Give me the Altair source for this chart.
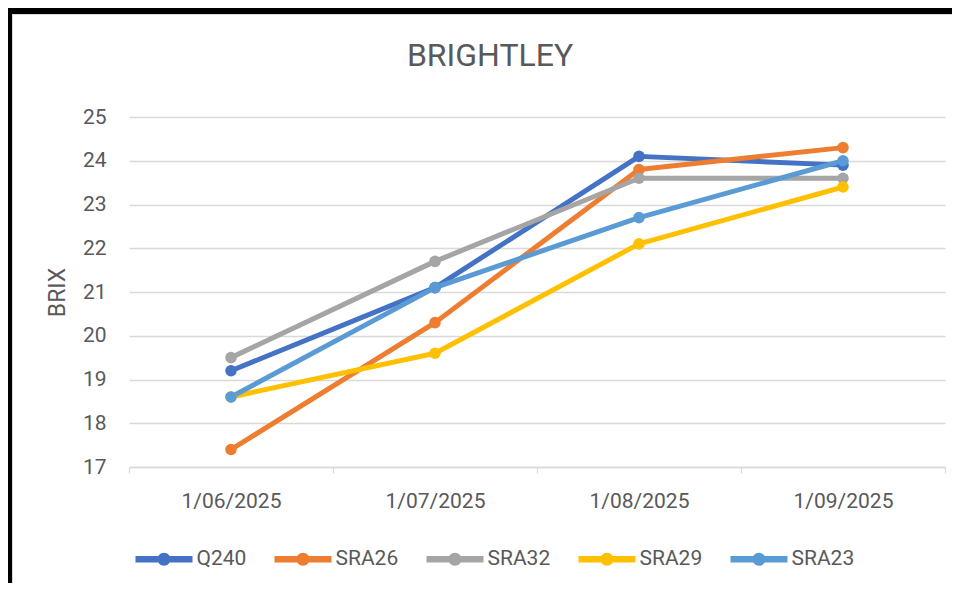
import altair as alt
import pandas as pd

dates = ["1/06/2025", "1/07/2025", "1/08/2025", "1/09/2025"]
series_names = ["Q240", "SRA26", "SRA32", "SRA29", "SRA23"]
series_colors = ["#4472C4", "#ED7D31", "#A5A5A5", "#FFC000", "#5B9BD5"]
q240 = [19.2, 21.1, 24.1, 23.9]
sra26 = [17.4, 20.3, 23.8, 24.3]
sra32 = [19.5, 21.7, 23.6, 23.6]
sra29 = [18.6, 19.6, 22.1, 23.4]
sra23 = [18.6, 21.1, 22.7, 24.0]
y_ticks = [17, 18, 19, 20, 21, 22, 23, 24, 25]

rows = []
for i, (name, vals) in enumerate(zip(series_names, [q240, sra26, sra32, sra29, sra23])):
    for d, v in zip(dates, vals):
        rows.append({"date": d, "series": name, "brix": v, "order": i})
df = pd.DataFrame(rows)

FONT = "Roboto"
TXT = "#595959"
GRID = "#D9D9D9"

legend_path = ("M-1,-0.114 L1,-0.114 L1,0.114 L-1,0.114 Z "
               "M0.228,0 A0.228,0.228 0 1,1 -0.228,0 A0.228,0.228 0 1,1 0.228,0 Z")

x_enc = alt.X("date:N", sort=dates, bandPosition=0.5,
              scale=alt.Scale(type="band", paddingInner=0, paddingOuter=0),
              axis=alt.Axis(title=None, labelAngle=0, tickBand="extent",
                            labelFontSize=21, labelColor=TXT, labelFont=FONT,
                            labelPadding=17, tickSize=6, tickColor=GRID, tickWidth=1.3,
                            domainColor=GRID, domainWidth=1.3, grid=False))
y_enc = alt.Y("brix:Q", scale=alt.Scale(domain=[17, 25], nice=False, zero=False),
              axis=alt.Axis(title="BRIX", values=y_ticks, format="d",
                            ticks=False, domain=False, labelPadding=23,
                            labelFontSize=21, labelColor=TXT, labelFont=FONT,
                            gridColor=GRID, gridWidth=1.3,
                            titleFont=FONT, titleFontSize=23, titleColor=TXT,
                            titleFontWeight="normal", titleAngle=-90,
                            titleX=-72, titleY=175, titleAlign="center",
                            titleBaseline="middle"))
color_scale = alt.Scale(domain=series_names, range=series_colors)

base = alt.Chart(df)
lines = base.mark_line(strokeWidth=5, strokeJoin="round", strokeCap="round").encode(
    x=x_enc, y=y_enc,
    color=alt.Color("series:N", scale=color_scale, sort=series_names,
                    legend=alt.Legend(title=None, orient="bottom", offset=13,
                                      direction="horizontal", symbolType=legend_path,
                                      symbolSize=3249, symbolStrokeWidth=0,
                                      symbolFillColor="#4472C4",
                                      labelFontSize=21, labelColor=TXT, labelFont=FONT,
                                      labelOffset=4, columnPadding=28, padding=6.5,
                                      symbolOffset=0)),
    order=alt.Order("order:Q"),
)
points = base.mark_circle(size=133, opacity=1).encode(
    x=x_enc, y=y_enc,
    fill=alt.Fill("series:N", scale=color_scale, sort=series_names, legend=None),
    order=alt.Order("order:Q"),
)

bdf = pd.DataFrame({"k": [0]})
top_border = alt.Chart(bdf).mark_rule(color="black", strokeWidth=6).encode(
    x=alt.value(-121), x2=alt.value(823), y=alt.value(-106))
left_border = alt.Chart(bdf).mark_rule(color="black", strokeWidth=4).encode(
    x=alt.value(-119), y=alt.value(-109), y2=alt.value(466))
top_gray = alt.Chart(bdf).mark_rule(color=GRID, strokeWidth=1).encode(
    x=alt.value(-117), x2=alt.value(823), y=alt.value(-102.5))
left_gray = alt.Chart(bdf).mark_rule(color=GRID, strokeWidth=1).encode(
    x=alt.value(-116.5), y=alt.value(-103), y2=alt.value(466))

chart = alt.layer(top_gray, left_gray, top_border, left_border, lines, points).properties(
    width=816, height=350,
    autosize=alt.AutoSizeParams(type="none"),
    padding={"left": 121, "top": 109, "right": 7, "bottom": 116},
    background="white",
    title=alt.TitleParams("BRIGHTLEY", font=FONT, fontSize=32, color=TXT,
                          fontWeight="normal", offset=33, dx=-47, dy=100, anchor="middle"),
).configure_view(stroke=None)

chart.save("out.html", embed_options={"renderer": "svg", "actions": False})
